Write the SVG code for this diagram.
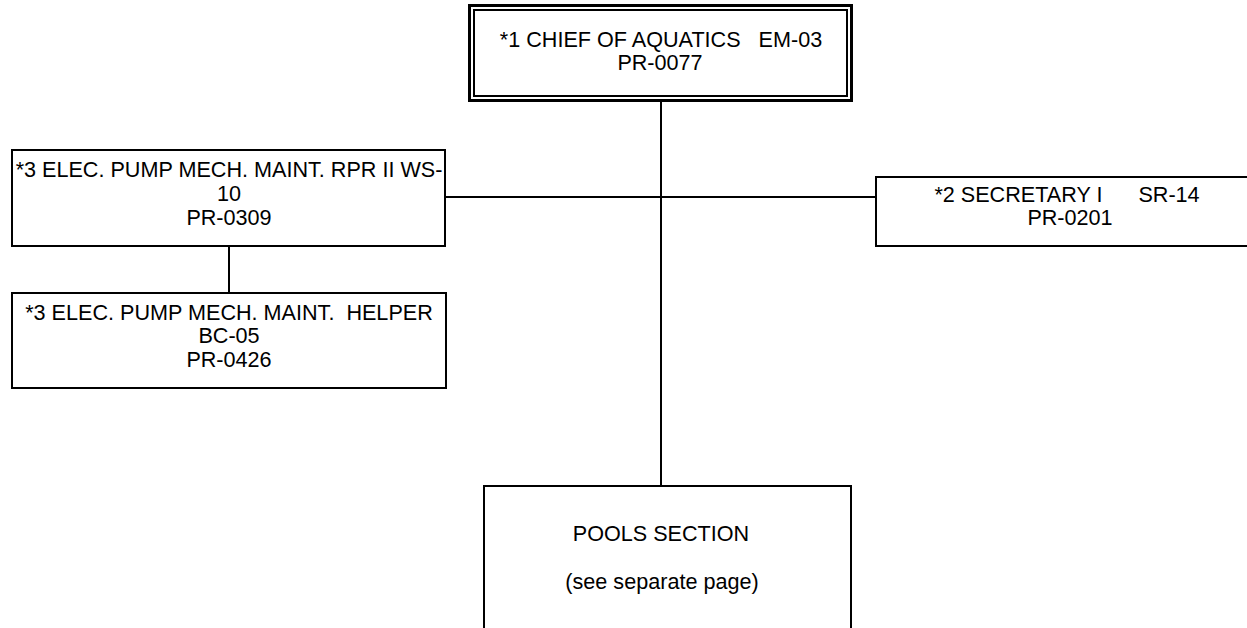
<svg xmlns="http://www.w3.org/2000/svg" width="1247" height="628" viewBox="0 0 1247 628">
<style>
.box{fill:#fff;stroke:#000;stroke-width:2}
.ln{stroke:#000;stroke-width:2;fill:none}
text{font-family:"Liberation Sans",Arial,sans-serif;font-size:21.6px;fill:#000;text-anchor:middle;white-space:pre}
</style>
<rect width="1247" height="628" fill="#fff"/>
<g id="connectors">
<line class="ln" x1="661" y1="101" x2="661" y2="486"/>
<line class="ln" x1="445" y1="197" x2="876" y2="197"/>
<line class="ln" x1="229" y1="246" x2="229" y2="293"/>
</g>
<g id="chief">
<rect x="469.5" y="5.5" width="382" height="95" fill="#fff" stroke="#000" stroke-width="3"/>
<rect x="474" y="10" width="373" height="86" fill="none" stroke="#000" stroke-width="2"/>
<text x="661" y="47" xml:space="preserve">*1 CHIEF OF AQUATICS   EM-03</text>
<text x="660" y="70">PR-0077</text>
</g>
<g id="repairer">
<rect class="box" x="12" y="150" width="433" height="96"/>
<text x="229" y="177">*3 ELEC. PUMP MECH. MAINT. RPR II WS-</text>
<text x="229" y="201">10</text>
<text x="229" y="225">PR-0309</text>
</g>
<g id="helper">
<rect class="box" x="12" y="293" width="434" height="95"/>
<text x="229" y="320" xml:space="preserve">*3 ELEC. PUMP MECH. MAINT.  HELPER</text>
<text x="229" y="343">BC-05</text>
<text x="229" y="367">PR-0426</text>
</g>
<g id="secretary">
<rect class="box" x="876" y="177" width="380" height="69"/>
<text x="1067" y="202" xml:space="preserve">*2 SECRETARY I      SR-14</text>
<text x="1070" y="225">PR-0201</text>
</g>
<g id="pools">
<path class="ln" d="M484 629 V486 H851 V629" fill="#fff"/>
<text x="661" y="541">POOLS SECTION</text>
<text x="662" y="589">(see separate page)</text>
</g>
</svg>
